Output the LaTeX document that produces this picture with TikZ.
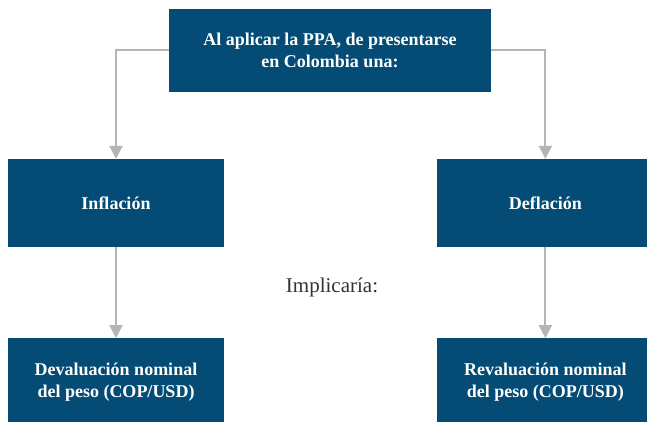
\documentclass[tikz,border=0pt]{standalone}
\usepackage{fontspec}
\setmainfont{Liberation Serif}
\usetikzlibrary{positioning, arrows.meta}
\definecolor{boxblue}{RGB}{4,76,117}
\definecolor{linegray}{RGB}{181,181,181}

\begin{document}
\begin{tikzpicture}[x=1pt, y=1pt, > = {Triangle[length=13pt, width=13pt]},
    box/.style = {fill=boxblue, text=white, inner sep=0pt, align=center,
      font=\fontsize{18}{22}\selectfont\bfseries,
      minimum width=216pt, minimum height=88pt},
    conn/.style = {draw=linegray, line width=2pt, ->}]
    \useasboundingbox (0,0) rectangle (647,-422);

    \node[box, minimum width=322pt, minimum height=83pt] (pregunta) at (330,-50.5)
      {Al aplicar la PPA, de presentarse\\en Colombia una:};
    \node[box] (inflacion) at (116,-203) {Inflación};
    \node[box] (deflacion) [right=213pt of inflacion] {Deflación};
    \node[box] (devaluacion) [below=91pt of inflacion]
      {Devaluación nominal\\del peso (COP/USD)};
    \node[box] (revaluacion) [below=91pt of deflacion]
      {Revaluación nominal\\del peso (COP/USD)};
    \node[text=black!80, font=\fontsize{21}{24}\selectfont] (implica) at (332,-287) {Implicaría:};

    \path[conn] (pregunta.west) -| (inflacion);
    \path[conn] (pregunta.east) -| (deflacion);
    \path[conn] (inflacion) -- (devaluacion);
    \path[conn] (deflacion) -- (revaluacion);
  \end{tikzpicture}
\end{document}
